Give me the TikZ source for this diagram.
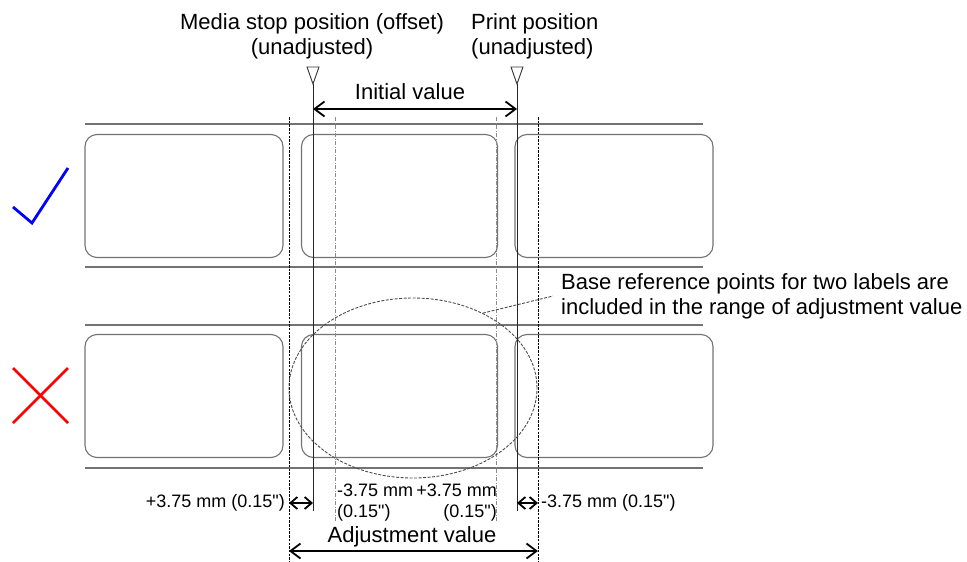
\documentclass[tikz,border=0pt]{standalone}
\usepackage{fontspec}
\setmainfont{Liberation Sans}
\usetikzlibrary{arrows.meta,shapes.geometric,positioning}

\begin{document}
\begin{tikzpicture}[x=1pt, y=-1pt,
		liner/.style={draw=black!55, line width=1.2pt},
		lbl/.style={rectangle, draw=black!55, line width=1.1pt, rounded corners=12pt, minimum height=123pt, inner sep=0pt},
		posline/.style={draw=black!85, line width=1pt},
		lim/.style={draw=black, line width=1pt, dash pattern=on 2.5pt off 1.2pt},
		guide/.style={draw=black!45, line width=0.7pt, dash pattern=on 4pt off 1.5pt on 1pt off 1.5pt},
		tri/.style={draw=black!80, line width=0.9pt},
		dim/.style={{Straight Barb[length=10pt,width=15pt]}-{Straight Barb[length=10pt,width=15pt]}, line width=1.8pt},
		dimsmall/.style={{Straight Barb[length=7pt,width=12pt]}-{Straight Barb[length=7pt,width=12pt]}, line width=1.8pt},
		zone/.style={ellipse, draw=black!70, line width=0.9pt, dash pattern=on 3pt off 1.5pt, minimum width=248pt, minimum height=180pt, inner sep=0pt},
		big/.style={font=\fontsize{22}{25}\selectfont, inner sep=0pt},
		small/.style={font=\fontsize{18}{21}\selectfont, inner sep=0pt},
	]
	\useasboundingbox (0,0) rectangle (967,562);

	% liner strips (upper and lower)
	\draw[liner] (85,124) -- (703,124);
	\draw[liner] (85,267) -- (703,267);
	\draw[liner] (85,325) -- (703,325);
	\draw[liner] (85,468) -- (703,468);

	% upper row of labels
	\node[lbl, minimum width=198pt] (u1) at (184,196) {};
	\node[lbl, minimum width=196pt] (u2) at (399.5,196) {};
	\node[lbl, minimum width=198pt] (u3) at (614,196) {};

	% lower row of labels
	\node[lbl, minimum width=198pt] (l1) at (184,396) {};
	\node[lbl, minimum width=196pt] (l2) at (399.5,396) {};
	\node[lbl, minimum width=198pt] (l3) at (614,396) {};

	% position markers
	\draw[tri] (307,67) -- (319,67) -- (313,84) -- cycle;
	\draw[tri] (511,67) -- (523,67) -- (517,84) -- cycle;
	\coordinate (mstop)  at (313,84);
	\coordinate (mstopb) at (313,511);
	\coordinate (ppos)   at (517,84);
	\coordinate (pposb)  at (517,511);

	% range limits
	\coordinate (adjl)  at (289,117);
	\coordinate (adjlb) at (289,562);
	\coordinate (adjr)  at (538,117);
	\coordinate (adjrb) at (538,562);
	\coordinate (gl)  at (335,117);
	\coordinate (glb) at (335,522);
	\coordinate (gr)  at (496,117);
	\coordinate (grb) at (496,522);

	\draw[posline] (mstop) -- (mstopb);
	\draw[posline] (ppos) -- (pposb);
	\draw[lim] (adjl) -- (adjlb);
	\draw[lim] (adjr) -- (adjrb);
	\draw[guide] (gl) -- (glb);
	\draw[guide] (gr) -- (grb);

	% headings
	\node[big, align=center] (mtxt) at (312,36) {Media stop position (offset)\\(unadjusted)};
	\node[big, align=left, anchor=west] (ptxt) at (471,36) {Print position\\(unadjusted)};

	% initial value
	\draw[dim] (mstop |- 0,109) -- (ppos |- 0,109);
	\node[big] (ini) at (410,92) {Initial value};

	% check and cross
	\draw[blue, line width=2.8pt] (13,207) -- (32,223) -- (68,168);
	\draw[red, line width=2.6pt] (13,368) -- (68,423);
	\draw[red, line width=2.6pt] (13,423) -- (68,368);

	% range of the two reference points
	\node[zone] (zone) at (413,388) {};
	\node[big, align=left, anchor=west] (note) at (561,296) {Base reference points for two labels are\\included in the range of adjustment value};
	\draw[draw=black!70, line width=0.9pt, dash pattern=on 3pt off 1.5pt] (zone.47) -- ([xshift=-8pt]note.west);

	% fine adjustment
	\draw[dimsmall] (adjl |- 0,503) -- (mstop |- 0,503);
	\draw[dimsmall] (ppos |- 0,503) -- (adjr |- 0,503);
	\node[small, anchor=east] (pl) at (285,503) {+3.75 mm (0.15\textquotedbl)};
	\node[small, align=left, anchor=west] (ml) at (337,503) {-3.75 mm\\(0.15\textquotedbl)};
	\node[small, align=right, anchor=east] (pr) at (497,503) {+3.75 mm\\(0.15\textquotedbl)};
	\node[small, anchor=west] (mr) at (541,503) {-3.75 mm (0.15\textquotedbl)};

	% adjustment value
	\draw[dim] (adjl |- 0,551) -- (adjr |- 0,551);
	\node[big] (adj) at (412,537) {Adjustment value};
\end{tikzpicture}
\end{document}
